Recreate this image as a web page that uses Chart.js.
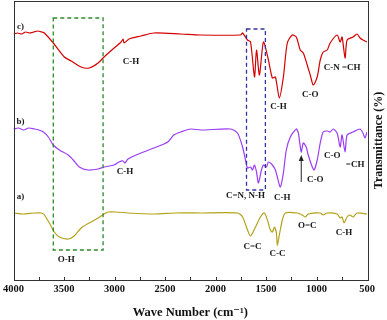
<!DOCTYPE html>
<html>
<head>
<meta charset="utf-8">
<script src="https://cdn.jsdelivr.net/npm/chart.js@4.4.1/dist/chart.umd.min.js"></script>
<style>
  html, body { margin: 0; padding: 0; background: #fff; }
  #wrap { width: 387px; height: 320px; }
</style>
</head>
<body>
<div id="wrap"><canvas id="ftir" width="387" height="320"></canvas></div>
<script>
// wavenumbers (cm-1) and transmittance (arbitrary, offset) for each spectrum
var wnC = [4000, 3960, 3920, 3880, 3840, 3800, 3760, 3720, 3694, 3606, 3497, 3428, 3330, 3251, 3162, 3103, 3004, 2935, 2915, 2905, 2856, 2738, 2610, 2344, 2147, 1752, 1732, 1683, 1653, 1614, 1594, 1565, 1525, 1476, 1437, 1407, 1368, 1328, 1289, 1240, 1200, 1161, 1131, 1092, 1062, 1032, 993, 963, 934, 894, 865, 796, 766, 747, 717, 697, 638, 599, 569, 540, 500];
var tC  = [246, 247, 246, 248, 247, 248, 249, 248, 247, 237, 223, 219, 213, 212, 217, 223, 232, 238, 241, 237, 241, 244, 247, 246, 245, 245, 247, 240, 238, 203, 230, 205, 238, 220, 202, 203, 182, 203, 237, 245, 243, 230, 227, 215, 205, 195, 203, 220, 228, 230, 237, 245, 238, 243, 222, 240, 243, 246, 242, 240, 238];

var wnB = [4000, 3950, 3900, 3850, 3793, 3750, 3704, 3655, 3606, 3546, 3458, 3408, 3349, 3261, 3162, 3103, 3004, 2955, 2915, 2896, 2866, 2738, 2610, 2472, 2413, 2344, 2245, 2147, 1851, 1782, 1732, 1703, 1683, 1653, 1634, 1614, 1594, 1575, 1545, 1525, 1496, 1476, 1437, 1407, 1388, 1358, 1328, 1299, 1259, 1200, 1180, 1151, 1131, 1102, 1082, 1042, 1023, 993, 963, 934, 894, 865, 835, 796, 766, 747, 717, 697, 638, 569, 540, 520, 500];
var tB  = [151, 152, 150, 152, 151, 150, 148, 143, 135, 130, 125, 120, 113, 110, 111, 113, 115, 118, 119, 117, 121, 127, 132, 138, 145, 148, 151, 150, 151, 147, 133, 120, 112, 113, 110, 115, 108, 97, 110, 115, 113, 118, 115, 110, 103, 93, 107, 130, 143, 151, 147, 128, 137, 133, 125, 113, 110, 120, 137, 148, 149, 148, 151, 147, 133, 145, 128, 145, 148, 151, 147, 142, 148];

var wnA = [4000, 3900, 3800, 3724, 3694, 3645, 3596, 3546, 3458, 3399, 3330, 3251, 3162, 3103, 3063, 2984, 2866, 2600, 2400, 2147, 1782, 1732, 1683, 1653, 1604, 1555, 1516, 1486, 1457, 1437, 1417, 1397, 1388, 1368, 1338, 1308, 1190, 1141, 1111, 1082, 963, 934, 894, 796, 766, 747, 727, 697, 668, 638, 599, 500];
var tA  = [67, 66, 67, 67, 65, 57, 48, 43, 41, 44, 52, 57, 62, 66, 68, 68, 67, 66, 67, 67, 67, 63, 50, 44, 53, 63, 67, 60, 50, 48, 53, 47, 35, 45, 60, 67, 67, 65, 63, 66, 67, 65, 67, 66, 62, 63, 57, 63, 65, 63, 67, 66];

var xTicks = [4000, 3500, 3000, 2500, 2000, 1500, 1000, 500];

// peak labels: [text, wavenumber, transmittance]
var peakLabels = [
    ["c)", 3931, 253], ["b)", 3931, 158], ["a)", 3931, 83],
    ["C-H", 2837, 218], ["C-H", 1377, 173], ["C-O", 1062, 185], ["C-N =CH", 746, 212],
    ["C-H", 2896, 108], ["C-O", 845, 124], ["=CH", 618, 115], ["C-O", 1013, 100],
    ["C=N, N-H", 1703, 84], ["C-H", 1338, 82],
    ["O-H", 3477, 20], ["C=C", 1634, 33], ["C-C", 1387, 26], ["O=C", 1092, 54], ["C-H", 727, 47]
];

// dashed boxes: [wnLeft, wnRight, tTop, tBottom, colour]
var boxes = [
    [3606, 3113, 262, 30, "#2b8a2b"],
    [1693, 1506, 251, 90, "#32339e"]
];

function pts(xs, ys) {
    return xs.map(function (v, i) { return { x: v, y: ys[i] }; });
}

var SERIF = "'Liberation Serif', 'DejaVu Serif', serif";

var decor = {
    id: "decor",
    afterDatasetsDraw: function (chart) {
        var c = chart.ctx, x = chart.scales.x, y = chart.scales.y, a = chart.chartArea;
        c.save();

        // dashed boxes
        c.lineWidth = 1.3;
        c.setLineDash([4, 3]);
        boxes.forEach(function (b) {
            var x1 = x.getPixelForValue(b[0]), x2 = x.getPixelForValue(b[1]);
            var y1 = y.getPixelForValue(b[2]), y2 = y.getPixelForValue(b[3]);
            c.strokeStyle = b[4];
            c.strokeRect(x1, y1, x2 - x1, y2 - y1);
        });
        c.setLineDash([]);

        // arrow for C-O in b)
        var ax = x.getPixelForValue(1151);
        var ay1 = y.getPixelForValue(98), ay2 = y.getPixelForValue(125);
        c.strokeStyle = "#222";
        c.fillStyle = "#222";
        c.lineWidth = 1;
        c.beginPath(); c.moveTo(ax, ay1); c.lineTo(ax, ay2 + 4); c.stroke();
        c.beginPath(); c.moveTo(ax, ay2); c.lineTo(ax - 2.5, ay2 + 6); c.lineTo(ax + 2.5, ay2 + 6); c.closePath(); c.fill();

        // labels
        c.font = "bold 9px " + SERIF;
        c.textAlign = "center";
        c.textBaseline = "middle";
        c.fillStyle = "#1a1a1a";
        peakLabels.forEach(function (p) {
            c.fillText(p[0], x.getPixelForValue(p[1]), y.getPixelForValue(p[2]));
        });

        // frame
        c.strokeStyle = "#333";
        c.lineWidth = 1;
        c.strokeRect(Math.round(a.left) + 0.5, Math.round(a.top) + 0.5, Math.round(a.right - a.left), Math.round(a.bottom - a.top));

        // inward ticks on bottom axis every 250
        for (var v = 750; v < 4000; v += 250) {
            var px = Math.round(x.getPixelForValue(v)) + 0.5;
            c.beginPath(); c.moveTo(px, a.bottom); c.lineTo(px, a.bottom - 3); c.stroke();
        }

        // right axis title, reading bottom to top
        c.translate(379, (a.top + a.bottom) / 2);
        c.rotate(-Math.PI / 2);
        c.font = "bold 12px " + SERIF;
        c.fillStyle = "#111";
        c.fillText("Transmittance (%)", 0, 0);
        c.restore();
    }
};

var ctx = document.getElementById("ftir");
var chart = new Chart(ctx, {
    type: "line",
    data: {
        datasets: [
            { label: "c", data: pts(wnC, tC), borderColor: "#d40000" },
            { label: "b", data: pts(wnB, tB), borderColor: "#9b3cf5" },
            { label: "a", data: pts(wnA, tA), borderColor: "#b3a21a" }
        ]
    },
    options: {
        responsive: false,
        animation: false,
        devicePixelRatio: 1,
        layout: { autoPadding: false, padding: { left: 11, right: 20, top: 1, bottom: 0 } },
        elements: {
            point: { radius: 0 },
            line: { borderWidth: 1.2, tension: 0.25, fill: false }
        },
        plugins: { legend: { display: false }, tooltip: { enabled: false } },
        scales: {
            x: {
                type: "linear",
                reverse: true,
                min: 500,
                max: 4000,
                afterBuildTicks: function (s) { s.ticks = xTicks.map(function (v) { return { value: v }; }); },
                afterFit: function (s) { s.height = 40; },
                grid: { display: false, drawTicks: false },
                border: { display: false },
                ticks: {
                    autoSkip: false,
                    maxRotation: 0,
                    padding: 3,
                    color: "#111",
                    font: { family: SERIF, size: 10.5, weight: "bold" },
                    callback: function (v) { return String(v); }
                },
                title: {
                    display: true,
                    text: "Wave Number (cm\u207B\u00B9)",
                    color: "#111",
                    font: { family: SERIF, size: 12.5, weight: "bold" },
                    padding: { top: 4, bottom: 0 }
                }
            },
            y: {
                display: false,
                min: 0,
                max: 279
            }
        }
    },
    plugins: [decor]
});
</script>
</body>
</html>
